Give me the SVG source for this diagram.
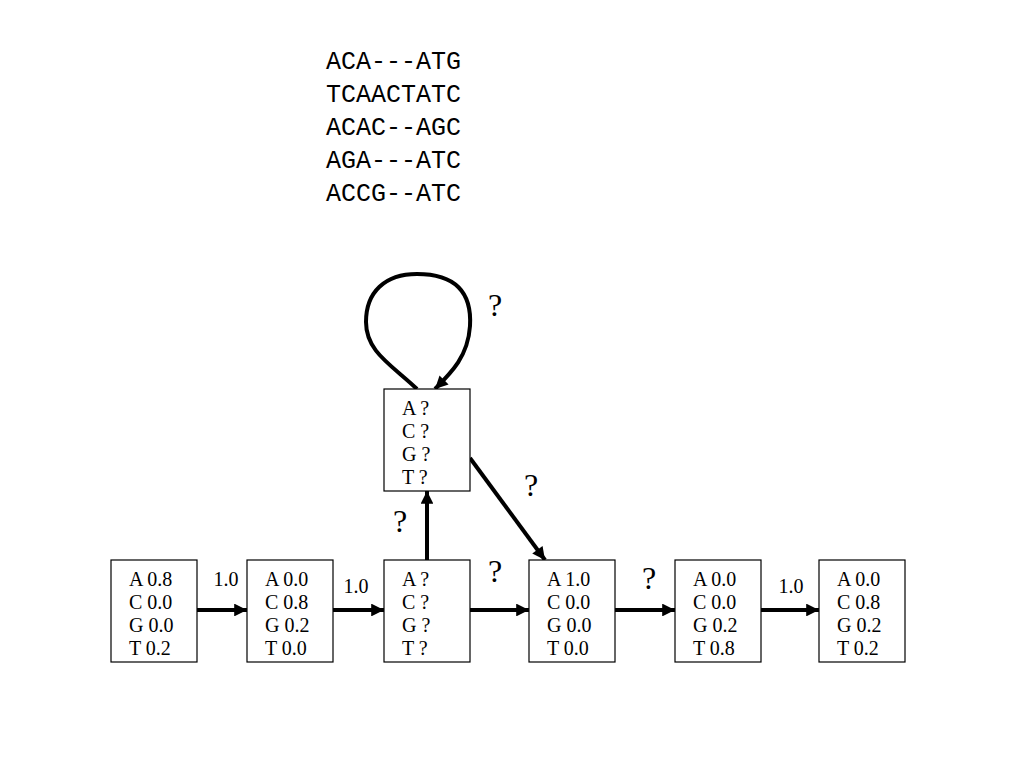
<svg xmlns="http://www.w3.org/2000/svg" width="1024" height="768" viewBox="0 0 1024 768">
<defs>
<style>
.box{fill:#fff;stroke:#000;stroke-width:1.2}
.t{font-family:"Liberation Serif","Times New Roman",serif;font-size:20px;fill:#000}
.q{font-family:"Liberation Serif","Times New Roman",serif;font-size:32px;fill:#000}
.m{font-family:"Liberation Mono","Courier New",monospace;font-size:25px;fill:#000}
.e{fill:none;stroke:#000;stroke-width:4}
</style>
<marker id="ah" viewBox="0 0 10 10" refX="10" refY="5" markerWidth="4" markerHeight="3.2" orient="auto" markerUnits="strokeWidth">
<path d="M0,0 L10,5 L0,10 z" fill="#000"/>
</marker>
</defs>
<rect width="1024" height="768" fill="#fff"/>
<g id="alignment" class="m">
<text x="326" y="69">ACA---ATG</text>
<text x="326" y="102">TCAACTATC</text>
<text x="326" y="135">ACAC--AGC</text>
<text x="326" y="168">AGA---ATC</text>
<text x="326" y="201">ACCG--ATC</text>
</g>
<g id="connectors">
<path class="e" d="M197,610 L247,610" marker-end="url(#ah)"/>
<path class="e" d="M333,610 L384,610" marker-end="url(#ah)"/>
<path class="e" d="M470,610 L529,610" marker-end="url(#ah)"/>
<path class="e" d="M615,610 L675,610" marker-end="url(#ah)"/>
<path class="e" d="M761,610 L819,610" marker-end="url(#ah)"/>
<path class="e" d="M427,560 L427,491" marker-end="url(#ah)"/>
<path class="e" d="M470,458 L545,560" marker-end="url(#ah)"/>
<path class="e" d="M417,389 C392,365 366,352 366,322 C366,292 385,274 417,274 C455,274 472,292 470,326 C468,356 452,372 435,389" marker-end="url(#ah)"/>
<text class="t" x="226" y="586" text-anchor="middle">1.0</text>
<text class="t" x="356" y="593" text-anchor="middle">1.0</text>
<text class="t" x="791" y="593" text-anchor="middle">1.0</text>
<text class="q" x="495" y="582" text-anchor="middle">?</text>
<text class="q" x="649" y="589" text-anchor="middle">?</text>
<text class="q" x="400" y="532" text-anchor="middle">?</text>
<text class="q" x="531" y="496" text-anchor="middle">?</text>
<text class="q" x="495" y="316" text-anchor="middle">?</text>
</g>
<g id="n1"><rect class="box" x="111" y="560" width="86" height="102"/>
<text class="t" x="129" y="586">A 0.8</text><text class="t" x="129" y="609">C 0.0</text><text class="t" x="129" y="632">G 0.0</text><text class="t" x="129" y="655">T 0.2</text></g>
<g id="n2"><rect class="box" x="247" y="560" width="86" height="102"/>
<text class="t" x="265" y="586">A 0.0</text><text class="t" x="265" y="609">C 0.8</text><text class="t" x="265" y="632">G 0.2</text><text class="t" x="265" y="655">T 0.0</text></g>
<g id="n3"><rect class="box" x="384" y="560" width="86" height="102"/>
<text class="t" x="402" y="586">A ?</text><text class="t" x="402" y="609">C ?</text><text class="t" x="402" y="632">G ?</text><text class="t" x="402" y="655">T ?</text></g>
<g id="n4"><rect class="box" x="529" y="560" width="86" height="102"/>
<text class="t" x="547" y="586">A 1.0</text><text class="t" x="547" y="609">C 0.0</text><text class="t" x="547" y="632">G 0.0</text><text class="t" x="547" y="655">T 0.0</text></g>
<g id="n5"><rect class="box" x="675" y="560" width="86" height="102"/>
<text class="t" x="693" y="586">A 0.0</text><text class="t" x="693" y="609">C 0.0</text><text class="t" x="693" y="632">G 0.2</text><text class="t" x="693" y="655">T 0.8</text></g>
<g id="n6"><rect class="box" x="819" y="560" width="86" height="102"/>
<text class="t" x="837" y="586">A 0.0</text><text class="t" x="837" y="609">C 0.8</text><text class="t" x="837" y="632">G 0.2</text><text class="t" x="837" y="655">T 0.2</text></g>
<g id="insert"><rect class="box" x="384" y="389" width="86" height="102"/>
<text class="t" x="402" y="415">A ?</text><text class="t" x="402" y="438">C ?</text><text class="t" x="402" y="461">G ?</text><text class="t" x="402" y="484">T ?</text></g>
</svg>
